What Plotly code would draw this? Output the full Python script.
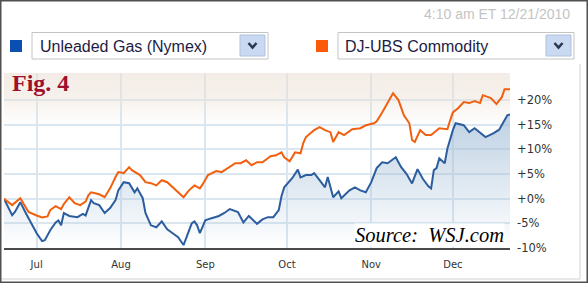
import plotly.graph_objects as go

# ---------------- data ----------------
gas_dates = ["2010-06-19","2010-06-22","2010-06-23","2010-06-25","2010-06-27","2010-06-29","2010-07-01","2010-07-03","2010-07-04","2010-07-06",
             "2010-07-08","2010-07-09","2010-07-10","2010-07-11","2010-07-13","2010-07-16","2010-07-18","2010-07-19","2010-07-21","2010-07-22",
             "2010-07-24","2010-07-26","2010-07-28","2010-07-30","2010-07-31","2010-08-02","2010-08-04","2010-08-06","2010-08-07","2010-08-09",
             "2010-08-10","2010-08-12","2010-08-14","2010-08-16","2010-08-18","2010-08-20","2010-08-22","2010-08-24","2010-08-25","2010-08-27",
             "2010-08-28","2010-08-29","2010-08-30","2010-09-01","2010-09-03","2010-09-06","2010-09-08","2010-09-10","2010-09-13","2010-09-15",
             "2010-09-17","2010-09-19","2010-09-20","2010-09-22","2010-09-24","2010-09-26","2010-09-28","2010-09-29","2010-09-30","2010-10-03",
             "2010-10-05","2010-10-06","2010-10-08","2010-10-10","2010-10-11","2010-10-13","2010-10-15","2010-10-16","2010-10-18","2010-10-20",
             "2010-10-21","2010-10-24","2010-10-26","2010-10-28","2010-10-30","2010-11-01","2010-11-03","2010-11-05","2010-11-07","2010-11-09",
             "2010-11-10","2010-11-12","2010-11-14","2010-11-16","2010-11-18","2010-11-20","2010-11-22","2010-11-23","2010-11-24","2010-11-25",
             "2010-11-26","2010-11-28","2010-11-29","2010-12-01","2010-12-02","2010-12-05","2010-12-07","2010-12-09","2010-12-11","2010-12-13",
             "2010-12-16","2010-12-18","2010-12-20","2010-12-21","2010-12-22"]
gas_values = [0.0,-3.35,-2.7,-0.7,-2.9,-5.0,-7.0,-8.6,-8.4,-6.4,
              -4.8,-4.4,-5.4,-2.9,-3.5,-3.75,-3.1,-3.4,-0.3,-0.9,
              -1.3,-2.9,-1.9,-0.3,1.7,3.35,3.15,1.3,2.1,0.1,
              -2.9,-5.4,-5.8,-4.6,-6.2,-7.0,-7.8,-9.4,-7.8,-5.0,
              -4.6,-5.4,-7.0,-4.4,-4.0,-3.5,-2.9,-2.1,-2.7,-4.8,
              -3.5,-4.6,-5.1,-4.2,-3.75,-3.75,-2.3,0.5,2.3,4.2,
              5.9,4.3,4.8,4.8,5.2,3.75,2.3,4.4,0.3,1.5,
              0.1,1.7,2.3,1.7,1.3,3.35,6.2,7.4,7.2,8.0,
              8.4,6.4,5.0,3.1,6.0,4.0,2.5,2.1,5.8,6.2,
              8.2,7.2,10.2,13.9,15.3,14.9,13.5,14.3,13.3,12.5,
              13.3,14.0,15.9,16.9,17.1]

djubs_dates = ["2010-06-19","2010-06-22","2010-06-25","2010-06-28","2010-07-01","2010-07-03","2010-07-05","2010-07-06","2010-07-08","2010-07-10",
               "2010-07-11","2010-07-13","2010-07-15","2010-07-17","2010-07-19","2010-07-20","2010-07-21","2010-07-24","2010-07-26","2010-07-28",
               "2010-07-30","2010-07-31","2010-08-02","2010-08-04","2010-08-05","2010-08-08","2010-08-10","2010-08-12","2010-08-14","2010-08-16",
               "2010-08-18","2010-08-20","2010-08-22","2010-08-24","2010-08-26","2010-08-28","2010-08-30","2010-08-31","2010-09-02","2010-09-05",
               "2010-09-07","2010-09-10","2010-09-12","2010-09-14","2010-09-16","2010-09-18","2010-09-20","2010-09-22","2010-09-25","2010-09-27",
               "2010-09-29","2010-09-30","2010-10-02","2010-10-04","2010-10-06","2010-10-07","2010-10-08","2010-10-11","2010-10-13","2010-10-15",
               "2010-10-17","2010-10-18","2010-10-20","2010-10-22","2010-10-25","2010-10-28","2010-10-30","2010-11-02","2010-11-03","2010-11-05",
               "2010-11-07","2010-11-09","2010-11-11","2010-11-13","2010-11-15","2010-11-16","2010-11-17","2010-11-19","2010-11-21","2010-11-23",
               "2010-11-26","2010-11-29","2010-11-30","2010-12-01","2010-12-03","2010-12-05","2010-12-07","2010-12-09","2010-12-11","2010-12-12",
               "2010-12-15","2010-12-17","2010-12-19","2010-12-20","2010-12-22"]
djubs_values = [0.0,-1.3,0.1,-2.7,-3.4,-3.8,-3.6,-2.3,-1.5,-2.1,
                -1.1,0.3,-0.9,-1.3,-0.6,0.7,1.3,0.9,0.3,2.1,
                4.4,5.4,5.2,6.4,5.8,4.8,3.35,3.15,2.7,3.75,
                3.35,2.3,1.3,0.3,1.7,2.7,2.1,2.9,4.8,5.6,
                5.4,6.4,7.2,7.2,7.8,6.8,7.4,7.4,8.6,8.8,
                9.4,8.4,7.6,9.4,9.2,11.3,12.5,13.9,14.5,13.9,
                13.5,11.5,13.5,12.9,14.1,14.3,14.9,15.3,15.7,17.5,
                19.4,21.4,20.0,16.9,15.3,11.9,11.5,13.9,12.9,12.9,
                14.3,14.1,15.9,17.5,18.4,19.6,19.4,19.8,19.4,21.0,
                20.4,19.2,20.6,22.2,22.2]

month_ticks = ["2010-07-01","2010-08-01","2010-09-01","2010-10-01","2010-11-01","2010-12-01"]
month_labels = ["Jul","Aug","Sep","Oct","Nov","Dec"]
pct_ticks = [-10,-5,0,5,10,15,20]
pct_labels = ["-10%","-5%","+0%","+5%","+10%","+15%","+20%"]

series_names = ["Unleaded Gas (Nymex)", "DJ-UBS Commodity"]
timestamp = "4:10 am ET 12/21/2010"

# ---------------- layout geometry ----------------
FW, FH = 588, 283
L, R, T, B = 4, 78, 73, 35
W, H = FW - L - R, FH - T - B
Y_MIN, Y_MAX = -10, 25.5
X_RANGE = [gas_dates[0], gas_dates[-1]]

def px(x):
    return (x - L) / W

def py(y):
    return 1 - (y - T) / H

BLUE = "#2c5d9f"
ORANGE = "#f0600f"
GRID = "#dae6f0"

fig = go.Figure()

# top beige gradient band
fig.add_trace(go.Scatter(x=X_RANGE, y=[15, 15], mode="lines", line=dict(width=0),
                         hoverinfo="skip", showlegend=False))
fig.add_trace(go.Scatter(x=X_RANGE, y=[Y_MAX, Y_MAX], mode="lines", line=dict(width=0),
                         fill="tonexty",
                         fillgradient=dict(type="vertical", start=15, stop=Y_MAX,
                                           colorscale=[[0, "rgba(236,224,214,0)"], [0.5, "rgba(236,224,214,0.45)"],
                                                       [1, "rgba(236,224,214,0.6)"]]),
                         hoverinfo="skip", showlegend=False))

# baseline for gas fill
fig.add_trace(go.Scatter(x=gas_dates, y=[Y_MIN] * len(gas_dates), mode="lines", line=dict(width=0),
                         hoverinfo="skip", showlegend=False))
fig.add_trace(go.Scatter(x=gas_dates, y=gas_values, mode="lines", name=series_names[0],
                         line=dict(color=BLUE, width=2), fill="tonexty",
                         fillgradient=dict(type="vertical", start=Y_MIN, stop=17.5,
                                           colorscale=[[0, "rgba(160,188,214,0)"], [1, "rgba(160,188,214,0.7)"]]),
                         showlegend=False))
fig.add_trace(go.Scatter(x=djubs_dates, y=djubs_values, mode="lines", name=series_names[1],
                         line=dict(color=ORANGE, width=2), showlegend=False))

shapes = []
# outer frame
shapes.append(dict(type="rect", xref="paper", yref="paper", x0=px(0.5), x1=px(FW - 0.5), y0=py(0.5), y1=py(FH - 0.5),
                   line=dict(color="#505050", width=2)))
shapes.append(dict(type="line", xref="paper", yref="paper", x0=px(580), x1=px(580), y0=py(64), y1=py(279),
                   line=dict(color="#d0d0d0", width=1)))
shapes.append(dict(type="line", xref="paper", yref="paper", x0=px(2), x1=px(580), y0=py(279), y1=py(279),
                   line=dict(color="#d0d0d0", width=1)))

# legend-like header controls
for sq_x, box_x0, box_x1, col in [(10, 32, 268, "#0b4fb2"), (316, 338, 574, "#fa5a0a")]:
    shapes.append(dict(type="rect", xref="paper", yref="paper", x0=px(sq_x), x1=px(sq_x + 12), y0=py(40), y1=py(52),
                       fillcolor=col, line=dict(width=0)))
    shapes.append(dict(type="rect", xref="paper", yref="paper", x0=px(box_x0), x1=px(box_x1), y0=py(32.5), y1=py(59),
                       fillcolor="white", line=dict(color="#c4c4c4", width=1)))
    bx = box_x1 - 28
    shapes.append(dict(type="rect", xref="paper", yref="paper", x0=px(bx), x1=px(bx + 25), y0=py(35), y1=py(56),
                       fillcolor="#c9d9f1", line=dict(color="#b0c2de", width=1)))
    cx = bx + 12.5
    shapes.append(dict(type="path", xref="paper", yref="paper",
                       path=f"M {px(cx-4)} {py(43)} L {px(cx)} {py(47.5)} L {px(cx+4)} {py(43)}",
                       line=dict(color="#2a3550", width=2.5)))

annotations = [
    dict(text=timestamp, xref="paper", yref="paper", x=px(572), y=py(14), xanchor="right", yanchor="middle",
         showarrow=False, font=dict(family="Liberation Sans, Arial", size=14, color="#c4c4c4")),
    dict(text=series_names[0], xref="paper", yref="paper", x=px(38), y=py(46.5), xanchor="left", yanchor="middle",
         showarrow=False, font=dict(family="Liberation Sans, Arial", size=16, color="#1c1c44")),
    dict(text=series_names[1], xref="paper", yref="paper", x=px(343), y=py(46.5), xanchor="left", yanchor="middle",
         showarrow=False, font=dict(family="Liberation Sans, Arial", size=16, color="#1c1c44")),
    dict(text="<b>Fig. 4</b>", xref="paper", yref="paper", x=px(10), y=py(83), xanchor="left", yanchor="middle",
         showarrow=False, font=dict(family="Liberation Serif, Times New Roman", size=24, color="#9e0f2c")),
    dict(text="<i>Source:  WSJ.com</i>", xref="paper", yref="paper", x=px(354), y=py(235), xanchor="left", yanchor="middle",
         showarrow=False, bgcolor="white", borderpad=0,
         font=dict(family="Liberation Serif, Times New Roman", size=20.5, color="#000000")),
]

fig.update_layout(
    width=FW, height=FH,
    margin=dict(l=L, r=R, t=T, b=B),
    paper_bgcolor="white", plot_bgcolor="white",
    shapes=shapes, annotations=annotations,
    xaxis=dict(type="date", range=X_RANGE, tickvals=month_ticks, ticktext=month_labels,
               showgrid=True, gridcolor=GRID, gridwidth=2, zeroline=False,
               showline=True, linecolor="#4a4a4a", linewidth=2, ticks="",
               ticklabelstandoff=6,
               tickfont=dict(family="DejaVu Sans", size=10, color="#333333")),
    yaxis=dict(range=[Y_MIN, Y_MAX], side="right", tickvals=pct_ticks, ticktext=pct_labels,
               showgrid=True, gridcolor=GRID, gridwidth=2, zeroline=False, showline=False, ticks="",
               ticklabelstandoff=6,
               tickfont=dict(family="DejaVu Sans", size=11.5, color="#333333")),
)

fig.write_html("out.html")
